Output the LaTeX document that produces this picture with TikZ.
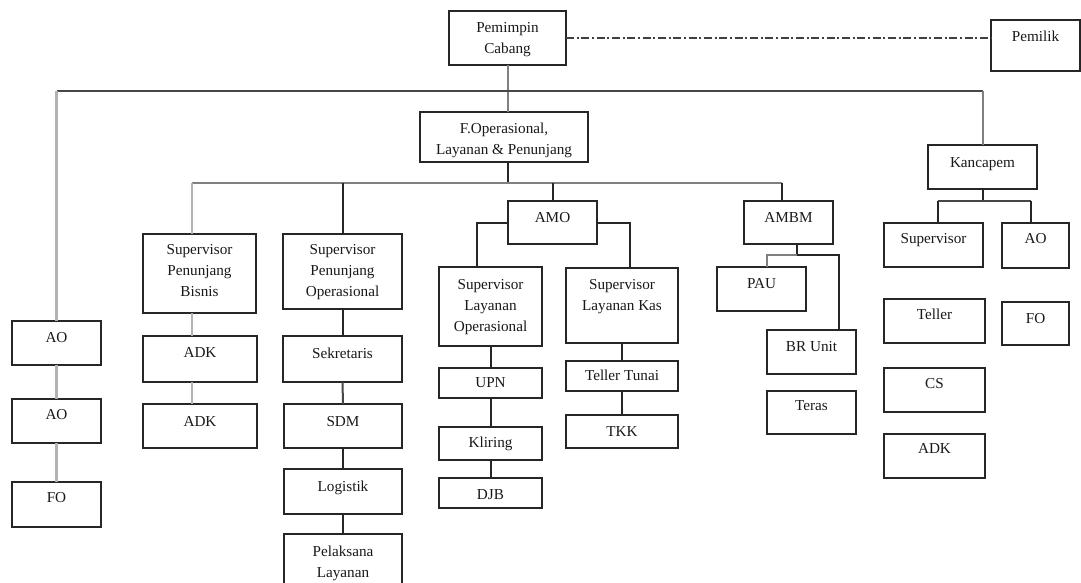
\documentclass[tikz,border=0pt]{standalone}
\usepackage{fontspec}
\setmainfont{Liberation Serif}
\usetikzlibrary{fit,calc}
\newcommand\obox[7]{%
  \node[box, fit={(#2,#3) (#4,#5)}] (#1) {};
  \node[txt] (#1t) at ({(#2+#4)/2},{#6-5.5}) {#7};}
\begin{document}
\begin{tikzpicture}[x=0.75pt,y=-0.75pt,
  box/.style={draw=black!85, line width=1.4pt, inner sep=0pt, outer sep=0pt, fill=white},
  txt/.style={font=\fontsize{11.4}{15.75}\selectfont, text=black!90, align=center, inner sep=0pt, anchor=north},
  lnk/.style={line width=1.5pt, draw=black!85},
  lnkl/.style={line width=1.6pt, draw=black!30},
  lnkm/.style={line width=1.5pt, draw=black!50},
  lnkd/.style={line width=1.5pt, draw=black!72},
  dashdot/.style={line width=0.8pt, draw=black!75, dash pattern=on 6pt off 2pt on 1.5pt off 2pt}]
\useasboundingbox (0,0) rectangle (1081,582);
\clip (0,0) rectangle (1081,582);
% boxes
\obox{pc}{449}{11}{566}{65}{28}{Pemimpin\\Cabang}
\obox{pm}{991}{20}{1080}{71}{36}{Pemilik}
\obox{fo}{420}{112}{588}{162}{128}{F.Operasional,\\Layanan \& Penunjang}
\obox{kc}{928}{145}{1037}{189}{163}{Kancapem}
\obox{ao1}{12}{321}{101}{365}{338}{AO}
\obox{ao2}{12}{399}{101}{443}{415}{AO}
\obox{fol}{12}{482}{101}{527}{498}{FO}
\obox{spb}{143}{234}{256}{313}{250}{Supervisor\\Penunjang\\Bisnis}
\obox{adk1}{143}{336}{257}{382}{353}{ADK}
\obox{adk2}{143}{404}{257}{448}{422}{ADK}
\obox{spo}{283}{234}{402}{309}{250}{Supervisor\\Penunjang\\Operasional}
\obox{sek}{283}{336}{402}{382}{353}{Sekretaris}
\obox{sdm}{284}{404}{402}{448}{422}{SDM}
\obox{log}{284}{469}{402}{514}{486}{Logistik}
\obox{pel}{284}{534}{402}{600}{551}{Pelaksana\\Layanan}
\obox{amo}{508}{201}{597}{244}{218}{AMO}
\obox{slo}{439}{267}{542}{346}{285}{Supervisor\\Layanan\\Operasional}
\obox{slk}{566}{268}{678}{343}{285}{Supervisor\\Layanan Kas}
\obox{upn}{439}{368}{542}{398}{383}{UPN}
\obox{kli}{439}{427}{542}{460}{442}{Kliring}
\obox{djb}{439}{478}{542}{508}{495}{DJB}
\obox{tt}{566}{361}{678}{391}{375}{Teller Tunai}
\obox{tkk}{566}{415}{678}{448}{432}{TKK}
\obox{ambm}{744}{201}{833}{244}{218}{AMBM}
\obox{pau}{717}{267}{806}{311}{284}{PAU}
\obox{bru}{767}{330}{856}{374}{347}{BR Unit}
\obox{ter}{767}{391}{856}{434}{406}{Teras}
\obox{ksup}{884}{223}{983}{267}{239}{Supervisor}
\obox{kao}{1002}{223}{1069}{268}{239}{AO}
\obox{tel}{884}{299}{985}{343}{314}{Teller}
\obox{kfo}{1002}{302}{1069}{345}{319}{FO}
\obox{cs}{884}{368}{985}{412}{384}{CS}
\obox{kadk}{884}{434}{985}{478}{449}{ADK}
% branch coordinates
\coordinate (h1) at (0,91);
\coordinate (h2) at (0,183);
\coordinate (h3) at (0,255);
\coordinate (h4) at (0,201);
\coordinate (spbin) at ($(spb.north west)!0.434!(spb.north east)$);
\coordinate (ambmin) at ($(ambm.north west)!0.427!(ambm.north east)$);
\coordinate (ambmout) at ($(ambm.south west)!0.596!(ambm.south east)$);
\coordinate (sloin) at ($(slo.north west)!0.369!(slo.north east)$);
\coordinate (slkin) at ($(slk.north west)!0.571!(slk.north east)$);
\coordinate (pauin) at ($(pau.north west)!0.562!(pau.north east)$);
\coordinate (bruin) at ($(bru.north west)!0.809!(bru.north east)$);
\coordinate (ksupin) at ($(ksup.north west)!0.545!(ksup.north east)$);
\coordinate (kaoin) at ($(kao.north west)!0.433!(kao.north east)$);
% connectors
\draw[dashdot] (pc.east) -- (pc.east -| pm.west);
\draw[lnkm] (pc.south) -- (pc.south |- fo.north);
\draw[lnkd] (ao1.north |- h1) -- (kc.north |- h1);
\draw[lnkl] (ao1.north |- h1) -- (ao1.north);
\draw[lnkm] (kc.north |- h1) -- (kc.north);
\draw[lnkl] (ao1.south) -- (ao2.north);
\draw[lnkl] (ao2.south) -- (fol.north);
\draw[lnk] (pc.south |- fo.south) -- (pc.south |- h2);
\draw[lnkm] (spbin |- h2) -- (ambmin |- h2);
\draw[lnkl] (spbin |- h2) -- (spbin);
\draw[lnk] (spo.north |- h2) -- (spo.north);
\draw[lnk] (amo.north |- h2) -- (amo.north);
\draw[lnk] (ambmin |- h2) -- (ambmin);
\draw[lnkl] (spbin |- spb.south) -- (spbin |- adk1.north);
\draw[lnkl] (spbin |- adk1.south) -- (spbin |- adk2.north);
\draw[lnk] (spo.south) -- (sek.north);
\draw[lnkd] (sek.south) -- (sdm.north);
\draw[lnk] (sdm.south) -- (log.north);
\draw[lnk] (log.south) -- (pel.north);
\draw[lnk] (amo.west) -| (sloin);
\draw[lnk] (amo.east) -| (slkin);
\draw[lnk] (slo.south) -- (upn.north);
\draw[lnk] (upn.south) -- (kli.north);
\draw[lnk] (kli.south) -- (djb.north);
\draw[lnk] (slk.south) -- (tt.north);
\draw[lnk] (tt.south) -- (tkk.north);
\draw[lnk] (ambmout) -- (ambmout |- h3);
\draw[lnkm] (ambmout |- h3) -| (pauin);
\draw[lnk] (ambmout |- h3) -| (bruin);
\draw[lnk] (kc.south) -- (kc.south |- h4);
\draw[lnkd] (ksupin |- h4) -- (kaoin |- h4);
\draw[lnk] (ksupin |- h4) -- (ksupin);
\draw[lnk] (kaoin |- h4) -- (kaoin);
\end{tikzpicture}
\end{document}
